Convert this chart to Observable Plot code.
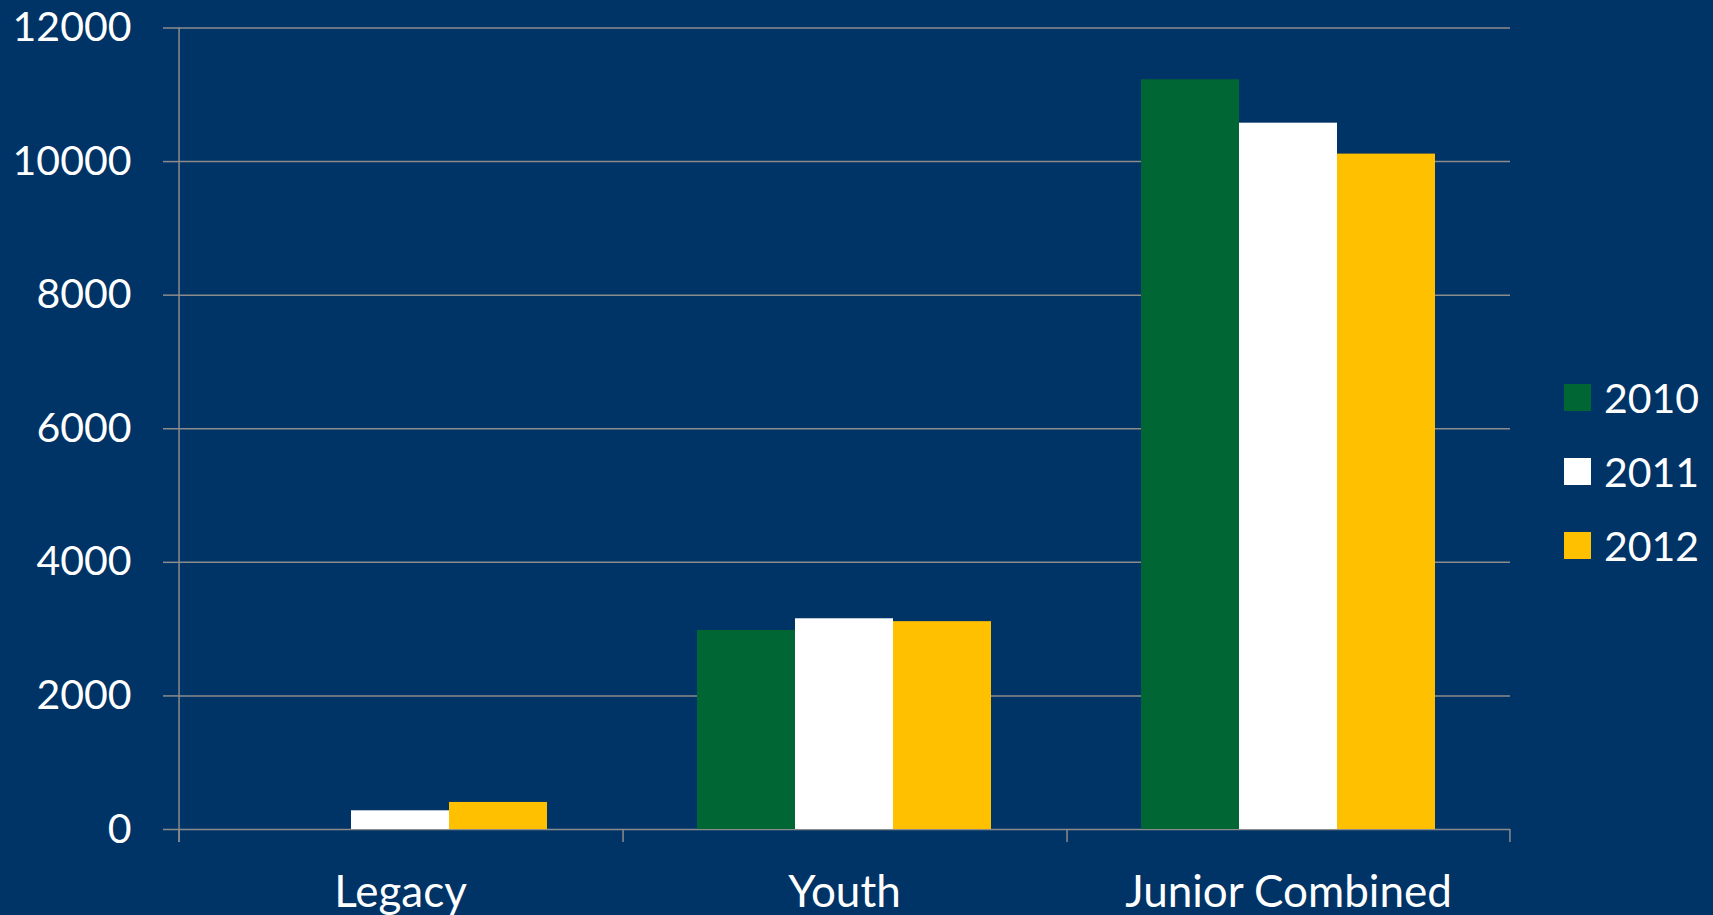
<!DOCTYPE html>
<html>
<head>
<meta charset="utf-8">
<script src="https://cdn.jsdelivr.net/npm/d3@7"></script>
<script src="https://cdn.jsdelivr.net/npm/@observablehq/plot@0.6"></script>
<style>
  html, body { margin: 0; padding: 0; background: #003366; }
  #wrap { position: relative; width: 1713px; height: 915px; background: #003366; overflow: hidden; font-family: Lato, "Open Sans", sans-serif; }
  #legend { position: absolute; left: 1564px; top: 360px; color: white; font-size: 41px; }
  .row { display: flex; align-items: center; height: 74px; margin-top: 0; }
  .sw { width: 27px; height: 27px; margin-right: 13px; flex: none; }
</style>
</head>
<body>
<div id="wrap"></div>
<script>
const categories = ["Legacy", "Youth", "Junior Combined"];
const years = ["2010", "2011", "2012"];
const values2010 = [0, 2980, 11225];
const values2011 = [280, 3155, 10575];
const values2012 = [405, 3112, 10112];
const yTicks = [0, 2000, 4000, 6000, 8000, 10000, 12000];
const colors = ["#006633", "#FFFFFF", "#FFC000"];

const series = [values2010, values2011, values2012];
const data = [];
categories.forEach((c, ci) => years.forEach((y, yi) => data.push({category: c, year: y, value: series[yi][ci]})));

const W = 1713, H = 915;
const mL = 177, mR = 203, mT = 27.5, mB = 86;
const facetW = (W - mL - mR) / categories.length;
const bw = facetW / 4.5;
const edge = 1.25 * bw;
const gray = "#8c8c8c";
const tickDepth = 195;

const chart = Plot.plot({
  width: W, height: H,
  marginLeft: mL, marginRight: mR, marginTop: mT, marginBottom: mB,
  style: {background: "transparent", color: "white", fontFamily: "Lato, 'Open Sans', sans-serif", fontSize: "41px"},
  fx: {domain: categories, padding: 0, label: null},
  x: {domain: years, paddingInner: 0, paddingOuter: 0.75, axis: null},
  y: {domain: [0, 12000], label: null},
  color: {domain: years, range: colors},
  marks: [
    Plot.gridY(yTicks, {stroke: gray, strokeOpacity: 1, strokeWidth: 1.5}),
    Plot.barY(data, {fx: "category", x: "year", y: "value", fill: "year"}),
    Plot.ruleX(categories, {fx: d => d, x: () => years[0], dx: -edge, y1: 0, y2: -tickDepth, stroke: gray, strokeWidth: 1.5}),
    Plot.ruleX([categories[categories.length - 1]], {fx: d => d, x: () => years[years.length - 1], dx: edge, y1: 0, y2: -tickDepth, stroke: gray, strokeWidth: 1.5}),
    Plot.ruleX([categories[0]], {fx: d => d, x: () => years[0], dx: -edge, y1: -tickDepth, y2: 12000, stroke: gray, strokeWidth: 1.5}),
    Plot.axisY(yTicks, {tickSize: 15, tickPadding: 32, stroke: gray, strokeWidth: 1.5, fill: "white", label: null, tickFormat: d => String(d)}),
    Plot.axisFx({anchor: "bottom", tickSize: 0, tickPadding: 46, fontSize: 44, fill: "white", label: null})
  ]
});
const wrap = document.getElementById("wrap");
wrap.appendChild(chart);

const legend = document.createElement("div");
legend.id = "legend";
years.forEach((y, i) => {
  const row = document.createElement("div");
  row.className = "row";
  const sw = document.createElement("div");
  sw.className = "sw";
  sw.style.background = colors[i];
  const t = document.createElement("span");
  t.textContent = y;
  row.appendChild(sw);
  row.appendChild(t);
  legend.appendChild(row);
});
wrap.appendChild(legend);
</script>
</body>
</html>
